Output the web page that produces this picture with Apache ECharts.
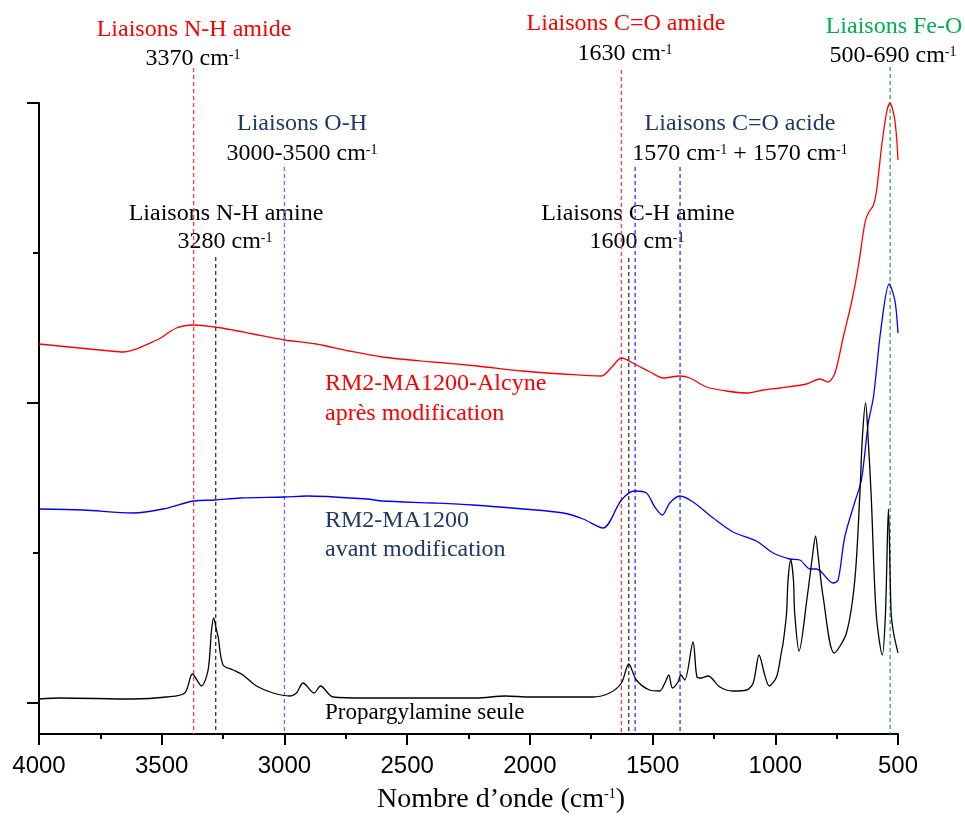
<!DOCTYPE html>
<html>
<head>
<meta charset="utf-8">
<script src="https://cdn.jsdelivr.net/npm/echarts@6/dist/echarts.min.js"></script>
<style>
  html, body { margin: 0; padding: 0; background: #fff; }
  #spectre { width: 965px; height: 816px; }
</style>
</head>
<body>
<div id="spectre"></div>
<script>
// Spectres IR (nombre d'onde en cm-1, intensite en unites arbitraires decalees)
const alcyneWn = [4000, 3710, 3657, 3520, 3440, 3370, 3283, 3210, 3128, 3000, 2870, 2735, 2600, 2395, 2215,
  2030, 1866, 1708, 1666, 1627, 1566, 1510, 1456, 1389, 1348, 1280, 1199, 1117, 1050, 982,
  873, 818, 785, 757, 723, 689, 662, 635, 621, 600, 587, 567, 547, 533, 513, 500];
const alcyneVal = [3.59, 3.52, 3.51, 3.63, 3.75, 3.78, 3.76, 3.73, 3.69, 3.63, 3.59, 3.52, 3.46, 3.41, 3.37,
  3.32, 3.29, 3.27, 3.36, 3.45, 3.38, 3.31, 3.25, 3.27, 3.25, 3.16, 3.12, 3.10, 3.13, 3.15,
  3.19, 3.24, 3.21, 3.30, 3.66, 4.01, 4.36, 4.80, 4.90, 4.98, 5.13, 5.56, 5.90, 6.00, 5.83, 5.43];

const avantWn = [4000, 3820, 3617, 3495, 3370, 3283, 3180, 3000, 2910, 2665, 2600, 2395, 2232, 2027, 1864,
  1783, 1702, 1627, 1573, 1525, 1491, 1460, 1430, 1389, 1335, 1253, 1172, 1077, 1009, 941,
  900, 859, 832, 764, 744, 717, 676, 649, 621, 600, 570, 536, 513, 500];
const avantVal = [1.94, 1.93, 1.90, 1.94, 2.02, 2.03, 2.05, 2.06, 2.07, 2.04, 2.02, 2.00, 1.98, 1.94, 1.90,
  1.84, 1.75, 2.03, 2.12, 2.10, 1.96, 1.88, 2.00, 2.07, 2.01, 1.85, 1.71, 1.62, 1.50, 1.44,
  1.43, 1.34, 1.34, 1.20, 1.23, 1.66, 2.01, 2.23, 2.80, 3.06, 3.73, 4.19, 4.03, 3.70];

const propWn = [4000, 3915, 3617, 3480, 3406, 3375, 3338, 3311, 3297, 3288, 3277, 3270, 3250, 3209, 3169,
  3114, 3046, 2978, 2951, 2924, 2879, 2853, 2802, 2666, 2218, 2100, 2000, 1743, 1675, 1627,
  1597, 1566, 1512, 1471, 1450, 1434, 1419, 1396, 1385, 1369, 1335, 1319, 1301, 1274, 1226,
  1172, 1117, 1090, 1066, 1043, 1025, 995, 975, 968, 954, 948, 937, 926, 921, 903,
  870, 849, 836, 825, 805, 760, 710, 676, 656, 645, 632, 622, 609, 589, 564,
  551, 539, 528, 518, 500];
const propVal = [0.04, 0.05, 0.04, 0.06, 0.10, 0.29, 0.17, 0.33, 0.73, 0.85, 0.73, 0.66, 0.38, 0.33, 0.28,
  0.17, 0.10, 0.07, 0.10, 0.20, 0.10, 0.17, 0.06, 0.05, 0.05, 0.07, 0.06, 0.06, 0.10, 0.20,
  0.39, 0.23, 0.13, 0.12, 0.20, 0.28, 0.15, 0.21, 0.28, 0.23, 0.61, 0.26, 0.25, 0.27, 0.16,
  0.12, 0.13, 0.20, 0.48, 0.28, 0.17, 0.26, 0.51, 0.60, 0.90, 1.23, 1.43, 1.23, 0.90, 0.52,
  1.06, 1.46, 1.67, 1.46, 1.06, 0.50, 0.70, 1.23, 2.06, 2.66, 3.00, 2.66, 2.06, 0.90, 0.48,
  0.90, 1.94, 0.90, 0.70, 0.50];

// Lignes de reperes des liaisons (position et hauteur du haut)
const repereWn = [3370, 3280, 3000, 1627, 1597, 1571, 1388, 532];
const repereHaut = [6.35, 4.46, 5.36, 6.33, 4.45, 5.36, 5.36, 6.36];
const repereType = ['amide', 'amine', 'oh', 'amide', 'amine', 'acide', 'acide', 'feo'];

const yMin = -0.31;
const yMax = 6;
const graduationsY = [0, 3, 6];
const sousGraduationsY = [1.5, 4.5];

const couleursRepere = { amide: '#ff3b3b', amine: '#333333', oh: '#6b6bff', acide: '#3535ff', feo: '#2ea84a' };
const serif = '"Liberation Serif", "Times New Roman", serif';
const rouge = '#ff0000', marine = '#1f3864', vert = '#00b050';

function paires(wn, val) {
    return wn.map((w, i) => [w, val[i]]);
}

function texte(x, y, t, couleur, taille, align) {
    return {
        type: 'text', x: x, y: y, silent: true,
        style: {
            text: t, fill: couleur || '#000', align: align || 'center', verticalAlign: 'middle',
            fontFamily: serif, fontSize: taille || 24,
            rich: { s: { fontSize: 14, fontFamily: serif, fill: '#000', verticalAlign: 'top', padding: [1, 0, 0, 0] } }
        }
    };
}

window.onload = init;

function init() {
    let chart = echarts.init(document.getElementById('spectre'));

    let reperes = repereWn.map((w, i) => ({
        type: 'line',
        data: [[w, repereHaut[i]], [w, yMin]],
        symbol: 'none',
        clip: false,
        silent: true,
        z: 1,
        lineStyle: { color: couleursRepere[repereType[i]], width: 1.3, type: [4, 3] }
    }));

    let spectres = [
        { d: paires(alcyneWn, alcyneVal), c: rouge },
        { d: paires(avantWn, avantVal), c: '#0000ff' },
        { d: paires(propWn, propVal), c: '#000000' }
    ].map(s => ({
        type: 'line',
        data: s.d,
        symbol: 'none',
        smooth: 0.3,
        clip: false,
        z: 3,
        lineStyle: { color: s.c, width: 1.3 }
    }));

    let option = {
        animation: false,
        backgroundColor: '#fff',
        grid: { left: 39, right: 67, top: 103, bottom: 82 },
        xAxis: {
            type: 'value', inverse: true, min: 500, max: 4000, interval: 500,
            axisLine: { onZero: false, lineStyle: { color: '#000', width: 2 } },
            axisTick: { length: 11, lineStyle: { color: '#000', width: 2 } },
            minorTick: { show: true, splitNumber: 2, length: 5, lineStyle: { color: '#000', width: 2 } },
            splitLine: { show: false },
            axisLabel: {
                color: '#000', fontSize: 24, fontFamily: '"Liberation Sans", Arial, sans-serif', margin: 20,
                formatter: v => String(v)
            }
        },
        yAxis: [
            {
                type: 'value', min: yMin, max: yMax,
                axisLine: { show: true, onZero: false, lineStyle: { color: '#000', width: 2 } },
                axisTick: { show: true, customValues: graduationsY, length: 12, lineStyle: { color: '#000', width: 2 } },
                axisLabel: { show: false },
                splitLine: { show: false }
            },
            {
                type: 'value', min: yMin, max: yMax, position: 'left',
                axisLine: { show: false },
                axisTick: { show: true, customValues: sousGraduationsY, length: 6, lineStyle: { color: '#000', width: 2 } },
                axisLabel: { show: false },
                splitLine: { show: false }
            }
        ],
        series: reperes.concat(spectres),
        graphic: [
            texte(194, 30, 'Liaisons N-H amide', rouge),
            texte(193, 59, '3370 cm{s|-1}'),
            texte(302, 124, 'Liaisons O-H', marine),
            texte(302, 154, '3000-3500 cm{s|-1}'),
            texte(226, 214, 'Liaisons N-H amine'),
            texte(225, 242, '3280 cm{s|-1}'),
            texte(626, 24, 'Liaisons C=O amide', rouge),
            texte(625, 54, '1630 cm{s|-1}'),
            texte(894, 27, 'Liaisons Fe-O', vert),
            texte(893, 56, '500-690 cm{s|-1}'),
            texte(740, 124, 'Liaisons C=O acide', marine),
            texte(740, 154, '1570 cm{s|-1} + 1570 cm{s|-1}'),
            texte(638, 214, 'Liaisons C-H amine'),
            texte(637, 242, '1600 cm{s|-1}'),
            texte(325, 384, 'RM2-MA1200-Alcyne', rouge, 24, 'left'),
            texte(325, 414, 'après modification', rouge, 24, 'left'),
            texte(325, 521, 'RM2-MA1200', marine, 24, 'left'),
            texte(325, 550, 'avant modification', marine, 24, 'left'),
            texte(325, 713, 'Propargylamine seule', '#000', 23, 'left'),
            texte(501, 800, 'Nombre d’onde (cm{s|-1})', '#000', 28)
        ]
    };

    chart.setOption(option);
}
</script>
</body>
</html>
